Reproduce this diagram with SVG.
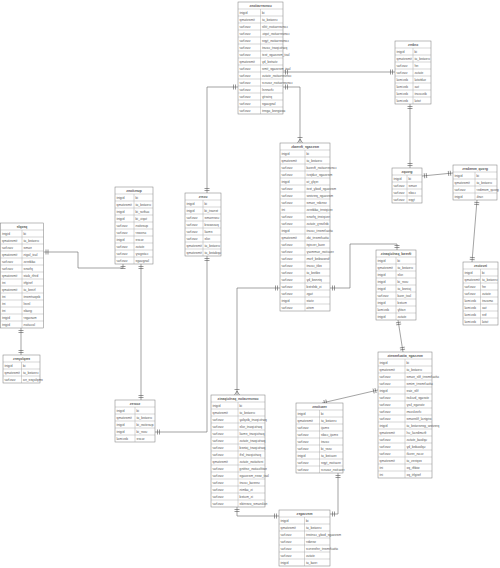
<svg xmlns="http://www.w3.org/2000/svg" width="500" height="568" viewBox="0 0 500 568">
<style>
.box{fill:#fff;stroke:#777;stroke-width:.5}
.grid{fill:none;stroke:#999;stroke-width:.4}
.conn{fill:none;stroke:#666;stroke-width:.6}
text{font-family:"Liberation Sans",Arial,sans-serif;font-size:3.3px;fill:#555}
.t{text-anchor:middle;font-weight:bold}
.c{text-anchor:end}
</style>
<defs>
<marker id="one" viewBox="0 -3 8 6" refX="8" refY="0" markerWidth="8" markerHeight="6" markerUnits="userSpaceOnUse" orient="auto-start-reverse"><path d="M3.5 -2.5V2.5M5.5 -2.5V2.5" fill="none" stroke="#555" stroke-width=".6"/></marker>
<marker id="many" viewBox="0 -3 8 6" refX="8" refY="0" markerWidth="8" markerHeight="6" markerUnits="userSpaceOnUse" orient="auto-start-reverse"><path d="M2.5 -2.5V2.5M4 0L8 -2.5M4 0L8 2.5" fill="none" stroke="#555" stroke-width=".6"/></marker>
</defs>
<rect width="500" height="568" fill="#fff"/>
<g id="connectors" class="conn" marker-start="url(#one)">
<path d="M238 87H207V193" marker-end="url(#one)"/>
<path d="M283 72H395" marker-end="url(#one)"/>
<path d="M283 87H300V143" marker-end="url(#many)"/>
<path d="M410 104V168" marker-end="url(#one)"/>
<path d="M422 176L453 173" marker-end="url(#one)"/>
<path d="M477 200L472 262" marker-end="url(#one)"/>
<path d="M330 288H350V244H397V250" marker-end="url(#one)"/>
<path d="M280 288H237V395" marker-end="url(#many)"/>
<path d="M398 320L403 352" marker-end="url(#one)"/>
<path d="M322 403L378 390" marker-end="url(#one)"/>
<path d="M338 473V514H330" marker-end="url(#one)"/>
<path d="M237 507V516H279" marker-end="url(#one)"/>
<path d="M207 256V432H155" marker-end="url(#one)"/>
<path d="M141 264V400" marker-end="url(#one)"/>
<path d="M43.5 252H78V268H123V264" marker-end="url(#one)"/>
<path d="M21 328V355" marker-end="url(#one)"/>
</g>

<g id="conversations" transform="translate(238,2)">
<rect class="box" width="45" height="112"/>
<path class="grid" d="M0 7H45M0 14H45M0 21H45M0 28H45M0 35H45M0 42H45M0 49H45M0 56H45M0 63H45M0 70H45M0 77H45M0 84H45M0 91H45M0 98H45M0 105H45M22.5 7V112"/>
<g transform="scale(-1,1)">
<text class="t" x="-22.5" y="4.8">conversations</text>
<text class="c" x="-1.5" y="11.8">bigint</text><text class="c" x="-24" y="11.8">id</text>
<text class="c" x="-1.5" y="18.8">timestamp</text><text class="c" x="-24" y="18.8">created_at</text>
<text class="c" x="-1.5" y="25.8">varchar</text><text class="c" x="-24" y="25.8">conversation_title</text>
<text class="c" x="-1.5" y="32.8">varchar</text><text class="c" x="-24" y="32.8">conversation_topic</text>
<text class="c" x="-1.5" y="39.8">varchar</text><text class="c" x="-24" y="39.8">conversation_type</text>
<text class="c" x="-1.5" y="46.8">varchar</text><text class="c" x="-24" y="46.8">participant_count</text>
<text class="c" x="-1.5" y="53.8">varchar</text><text class="c" x="-24" y="53.8">last_message_text</text>
<text class="c" x="-1.5" y="60.8">timestamp</text><text class="c" x="-24" y="60.8">started_by</text>
<text class="c" x="-1.5" y="67.8">varchar</text><text class="c" x="-24" y="67.8">last_message_time</text>
<text class="c" x="-1.5" y="74.8">varchar</text><text class="c" x="-24" y="74.8">conversation_status</text>
<text class="c" x="-1.5" y="81.8">varchar</text><text class="c" x="-24" y="81.8">conversation_source</text>
<text class="c" x="-1.5" y="88.8">varchar</text><text class="c" x="-24" y="88.8">channel</text>
<text class="c" x="-1.5" y="95.8">varchar</text><text class="c" x="-24" y="95.8">priority</text>
<text class="c" x="-1.5" y="102.8">varchar</text><text class="c" x="-24" y="102.8">language</text>
<text class="c" x="-1.5" y="109.8">varchar</text><text class="c" x="-24" y="109.8">assigned_agent</text>
</g>
</g>

<g id="orders" transform="translate(395,41)">
<rect class="box" width="36" height="63"/>
<path class="grid" d="M0 7H36M0 14H36M0 21H36M0 28H36M0 35H36M0 42H36M0 49H36M0 56H36M18 7V63"/>
<g transform="scale(-1,1)">
<text class="t" x="-18" y="4.8">orders</text>
<text class="c" x="-1.5" y="11.8">bigint</text><text class="c" x="-19.5" y="11.8">id</text>
<text class="c" x="-1.5" y="18.8">timestamp</text><text class="c" x="-19.5" y="18.8">created_at</text>
<text class="c" x="-1.5" y="25.8">varchar</text><text class="c" x="-19.5" y="25.8">ref</text>
<text class="c" x="-1.5" y="32.8">varchar</text><text class="c" x="-19.5" y="32.8">status</text>
<text class="c" x="-1.5" y="39.8">decimal</text><text class="c" x="-19.5" y="39.8">subtotal</text>
<text class="c" x="-1.5" y="46.8">decimal</text><text class="c" x="-19.5" y="46.8">tax</text>
<text class="c" x="-1.5" y="53.8">decimal</text><text class="c" x="-19.5" y="53.8">discount</text>
<text class="c" x="-1.5" y="60.8">decimal</text><text class="c" x="-19.5" y="60.8">total</text>
</g>
</g>

<g id="groups" transform="translate(392,168)">
<rect class="box" width="30" height="35"/>
<path class="grid" d="M0 7H30M0 14H30M0 21H30M0 28H30M15 7V35"/>
<g transform="scale(-1,1)">
<text class="t" x="-15" y="4.8">groups</text>
<text class="c" x="-1.5" y="11.8">bigint</text><text class="c" x="-16.5" y="11.8">id</text>
<text class="c" x="-1.5" y="18.8">varchar</text><text class="c" x="-16.5" y="18.8">name</text>
<text class="c" x="-1.5" y="25.8">varchar</text><text class="c" x="-16.5" y="25.8">code</text>
<text class="c" x="-1.5" y="32.8">varchar</text><text class="c" x="-16.5" y="32.8">type</text>
</g>
</g>

<g id="group_members" transform="translate(453,165)">
<rect class="box" width="44" height="35"/>
<path class="grid" d="M0 7H44M0 14H44M0 21H44M0 28H44M22 7V35"/>
<g transform="scale(-1,1)">
<text class="t" x="-22" y="4.8">group_members</text>
<text class="c" x="-1.5" y="11.8">bigint</text><text class="c" x="-23.5" y="11.8">id</text>
<text class="c" x="-1.5" y="18.8">timestamp</text><text class="c" x="-23.5" y="18.8">created_at</text>
<text class="c" x="-1.5" y="25.8">varchar</text><text class="c" x="-23.5" y="25.8">group_member</text>
<text class="c" x="-1.5" y="32.8">bigint</text><text class="c" x="-23.5" y="32.8">rank</text>
</g>
</g>

<g id="invoices" transform="translate(463,262)">
<rect class="box" width="35" height="63"/>
<path class="grid" d="M0 7H35M0 14H35M0 21H35M0 28H35M0 35H35M0 42H35M0 49H35M0 56H35M17.5 7V63"/>
<g transform="scale(-1,1)">
<text class="t" x="-17.5" y="4.8">invoices</text>
<text class="c" x="-1.5" y="11.8">bigint</text><text class="c" x="-19" y="11.8">id</text>
<text class="c" x="-1.5" y="18.8">timestamp</text><text class="c" x="-19" y="18.8">created_at</text>
<text class="c" x="-1.5" y="25.8">varchar</text><text class="c" x="-19" y="25.8">ref</text>
<text class="c" x="-1.5" y="32.8">varchar</text><text class="c" x="-19" y="32.8">status</text>
<text class="c" x="-1.5" y="39.8">decimal</text><text class="c" x="-19" y="39.8">amount</text>
<text class="c" x="-1.5" y="46.8">decimal</text><text class="c" x="-19" y="46.8">tax</text>
<text class="c" x="-1.5" y="53.8">decimal</text><text class="c" x="-19" y="53.8">fee</text>
<text class="c" x="-1.5" y="60.8">decimal</text><text class="c" x="-19" y="60.8">total</text>
</g>
</g>

<g id="message_threads" transform="translate(280,143)">
<rect class="box" width="50" height="168"/>
<path class="grid" d="M0 7H50M0 14H50M0 21H50M0 28H50M0 35H50M0 42H50M0 49H50M0 56H50M0 63H50M0 70H50M0 77H50M0 84H50M0 91H50M0 98H50M0 105H50M0 112H50M0 119H50M0 126H50M0 133H50M0 140H50M0 147H50M0 154H50M0 161H50M25 7V168"/>
<g transform="scale(-1,1)">
<text class="t" x="-25" y="4.8">message_threads</text>
<text class="c" x="-1.5" y="11.8">bigint</text><text class="c" x="-26.5" y="11.8">id</text>
<text class="c" x="-1.5" y="18.8">timestamp</text><text class="c" x="-26.5" y="18.8">created_at</text>
<text class="c" x="-1.5" y="25.8">varchar</text><text class="c" x="-26.5" y="25.8">conversation_thread</text>
<text class="c" x="-1.5" y="32.8">varchar</text><text class="c" x="-26.5" y="32.8">message_subject</text>
<text class="c" x="-1.5" y="39.8">bigint</text><text class="c" x="-26.5" y="39.8">reply_to</text>
<text class="c" x="-1.5" y="46.8">varchar</text><text class="c" x="-26.5" y="46.8">message_body_text</text>
<text class="c" x="-1.5" y="53.8">varchar</text><text class="c" x="-26.5" y="53.8">message_preview</text>
<text class="c" x="-1.5" y="60.8">varchar</text><text class="c" x="-26.5" y="60.8">sender_name</text>
<text class="c" x="-1.5" y="67.8">int</text><text class="c" x="-26.5" y="67.8">recipient_address</text>
<text class="c" x="-1.5" y="74.8">varchar</text><text class="c" x="-26.5" y="74.8">recipient_phone</text>
<text class="c" x="-1.5" y="81.8">varchar</text><text class="c" x="-26.5" y="81.8">delivery_status</text>
<text class="c" x="-1.5" y="88.8">bigint</text><text class="c" x="-26.5" y="88.8">attachment_count</text>
<text class="c" x="-1.5" y="95.8">timestamp</text><text class="c" x="-26.5" y="95.8">attachment_ids</text>
<text class="c" x="-1.5" y="102.8">varchar</text><text class="c" x="-26.5" y="102.8">read_receipt</text>
<text class="c" x="-1.5" y="109.8">varchar</text><text class="c" x="-26.5" y="109.8">reaction_summary</text>
<text class="c" x="-1.5" y="116.8">varchar</text><text class="c" x="-26.5" y="116.8">forwarded_from</text>
<text class="c" x="-1.5" y="123.8">varchar</text><text class="c" x="-26.5" y="123.8">edit_count</text>
<text class="c" x="-1.5" y="130.8">varchar</text><text class="c" x="-26.5" y="130.8">edited_at</text>
<text class="c" x="-1.5" y="137.8">varchar</text><text class="c" x="-26.5" y="137.8">pinned_by</text>
<text class="c" x="-1.5" y="144.8">varchar</text><text class="c" x="-26.5" y="144.8">is_deleted</text>
<text class="c" x="-1.5" y="151.8">varchar</text><text class="c" x="-26.5" y="151.8">tags</text>
<text class="c" x="-1.5" y="158.8">bigint</text><text class="c" x="-26.5" y="158.8">state</text>
<text class="c" x="-1.5" y="165.8">varchar</text><text class="c" x="-26.5" y="165.8">meta</text>
</g>
</g>

<g id="thread_participants" transform="translate(376,250)">
<rect class="box" width="40" height="70"/>
<path class="grid" d="M0 7H40M0 14H40M0 21H40M0 28H40M0 35H40M0 42H40M0 49H40M0 56H40M0 63H40M20 7V70"/>
<g transform="scale(-1,1)">
<text class="t" x="-20" y="4.8">thread_participants</text>
<text class="c" x="-1.5" y="11.8">bigint</text><text class="c" x="-21.5" y="11.8">id</text>
<text class="c" x="-1.5" y="18.8">timestamp</text><text class="c" x="-21.5" y="18.8">created_at</text>
<text class="c" x="-1.5" y="25.8">bigint</text><text class="c" x="-21.5" y="25.8">role</text>
<text class="c" x="-1.5" y="32.8">bigint</text><text class="c" x="-21.5" y="32.8">user_id</text>
<text class="c" x="-1.5" y="39.8">bigint</text><text class="c" x="-21.5" y="39.8">joined_at</text>
<text class="c" x="-1.5" y="46.8">varchar</text><text class="c" x="-21.5" y="46.8">last_read</text>
<text class="c" x="-1.5" y="53.8">bigint</text><text class="c" x="-21.5" y="53.8">muted</text>
<text class="c" x="-1.5" y="60.8">decimal</text><text class="c" x="-21.5" y="60.8">notify</text>
<text class="c" x="-1.5" y="67.8">bigint</text><text class="c" x="-21.5" y="67.8">status</text>
</g>
</g>

<g id="message_attachments" transform="translate(378,352)">
<rect class="box" width="54" height="126"/>
<path class="grid" d="M0 7H54M0 14H54M0 21H54M0 28H54M0 35H54M0 42H54M0 49H54M0 56H54M0 63H54M0 70H54M0 77H54M0 84H54M0 91H54M0 98H54M0 105H54M0 112H54M0 119H54M27 7V126"/>
<g transform="scale(-1,1)">
<text class="t" x="-27" y="4.8">message_attachments</text>
<text class="c" x="-1.5" y="11.8">bigint</text><text class="c" x="-28.5" y="11.8">id</text>
<text class="c" x="-1.5" y="18.8">timestamp</text><text class="c" x="-28.5" y="18.8">created_at</text>
<text class="c" x="-1.5" y="25.8">varchar</text><text class="c" x="-28.5" y="25.8">attachment_file_name</text>
<text class="c" x="-1.5" y="32.8">varchar</text><text class="c" x="-28.5" y="32.8">attachment_mime</text>
<text class="c" x="-1.5" y="39.8">bigint</text><text class="c" x="-28.5" y="39.8">file_size</text>
<text class="c" x="-1.5" y="46.8">varchar</text><text class="c" x="-28.5" y="46.8">storage_bucket</text>
<text class="c" x="-1.5" y="53.8">varchar</text><text class="c" x="-28.5" y="53.8">storage_key</text>
<text class="c" x="-1.5" y="60.8">varchar</text><text class="c" x="-28.5" y="60.8">checksum</text>
<text class="c" x="-1.5" y="67.8">varchar</text><text class="c" x="-28.5" y="67.8">original_filename</text>
<text class="c" x="-1.5" y="74.8">bigint</text><text class="c" x="-28.5" y="74.8">preview_generated_at</text>
<text class="c" x="-1.5" y="81.8">timestamp</text><text class="c" x="-28.5" y="81.8">thumbnail_url</text>
<text class="c" x="-1.5" y="88.8">varchar</text><text class="c" x="-28.5" y="88.8">upload_status</text>
<text class="c" x="-1.5" y="95.8">varchar</text><text class="c" x="-28.5" y="95.8">uploaded_by</text>
<text class="c" x="-1.5" y="102.8">varchar</text><text class="c" x="-28.5" y="102.8">scan_result</text>
<text class="c" x="-1.5" y="109.8">timestamp</text><text class="c" x="-28.5" y="109.8">expires_at</text>
<text class="c" x="-1.5" y="116.8">int</text><text class="c" x="-28.5" y="116.8">width_px</text>
<text class="c" x="-1.5" y="123.8">int</text><text class="c" x="-28.5" y="123.8">height_px</text>
</g>
</g>

<g id="reactions" transform="translate(296,403)">
<rect class="box" width="47" height="70"/>
<path class="grid" d="M0 7H47M0 14H47M0 21H47M0 28H47M0 35H47M0 42H47M0 49H47M0 56H47M0 63H47M23.5 7V70"/>
<g transform="scale(-1,1)">
<text class="t" x="-23.5" y="4.8">reactions</text>
<text class="c" x="-1.5" y="11.8">bigint</text><text class="c" x="-25" y="11.8">id</text>
<text class="c" x="-1.5" y="18.8">timestamp</text><text class="c" x="-25" y="18.8">created_at</text>
<text class="c" x="-1.5" y="25.8">varchar</text><text class="c" x="-25" y="25.8">emoji</text>
<text class="c" x="-1.5" y="32.8">varchar</text><text class="c" x="-25" y="32.8">emoji_code</text>
<text class="c" x="-1.5" y="39.8">varchar</text><text class="c" x="-25" y="39.8">count</text>
<text class="c" x="-1.5" y="46.8">varchar</text><text class="c" x="-25" y="46.8">user_id</text>
<text class="c" x="-1.5" y="53.8">bigint</text><text class="c" x="-25" y="53.8">reacted_at</text>
<text class="c" x="-1.5" y="60.8">varchar</text><text class="c" x="-25" y="60.8">reaction_type</text>
<text class="c" x="-1.5" y="67.8">varchar</text><text class="c" x="-25" y="67.8">reaction_source</text>
</g>
</g>

<g id="conversation_participants" transform="translate(211,395)">
<rect class="box" width="54" height="112"/>
<path class="grid" d="M0 7H54M0 14H54M0 21H54M0 28H54M0 35H54M0 42H54M0 49H54M0 56H54M0 63H54M0 70H54M0 77H54M0 84H54M0 91H54M0 98H54M0 105H54M27 7V112"/>
<g transform="scale(-1,1)">
<text class="t" x="-27" y="4.8">conversation_participants</text>
<text class="c" x="-1.5" y="11.8">bigint</text><text class="c" x="-28.5" y="11.8">id</text>
<text class="c" x="-1.5" y="18.8">timestamp</text><text class="c" x="-28.5" y="18.8">created_at</text>
<text class="c" x="-1.5" y="25.8">varchar</text><text class="c" x="-28.5" y="25.8">participant_display</text>
<text class="c" x="-1.5" y="32.8">varchar</text><text class="c" x="-28.5" y="32.8">participant_role</text>
<text class="c" x="-1.5" y="39.8">varchar</text><text class="c" x="-28.5" y="39.8">participant_email</text>
<text class="c" x="-1.5" y="46.8">varchar</text><text class="c" x="-28.5" y="46.8">participant_status</text>
<text class="c" x="-1.5" y="53.8">varchar</text><text class="c" x="-28.5" y="53.8">participant_joined</text>
<text class="c" x="-1.5" y="60.8">varchar</text><text class="c" x="-28.5" y="60.8">participant_left</text>
<text class="c" x="-1.5" y="67.8">timestamp</text><text class="c" x="-28.5" y="67.8">invitation_status</text>
<text class="c" x="-1.5" y="74.8">varchar</text><text class="c" x="-28.5" y="74.8">notification_setting</text>
<text class="c" x="-1.5" y="81.8">varchar</text><text class="c" x="-28.5" y="81.8">last_seen_message</text>
<text class="c" x="-1.5" y="88.8">varchar</text><text class="c" x="-28.5" y="88.8">unread_count</text>
<text class="c" x="-1.5" y="95.8">varchar</text><text class="c" x="-28.5" y="95.8">is_admin</text>
<text class="c" x="-1.5" y="102.8">varchar</text><text class="c" x="-28.5" y="102.8">is_muted</text>
<text class="c" x="-1.5" y="109.8">varchar</text><text class="c" x="-28.5" y="109.8">nickname_override</text>
</g>
</g>

<g id="messages" transform="translate(279,510)">
<rect class="box" width="51" height="56"/>
<path class="grid" d="M0 7H51M0 14H51M0 21H51M0 28H51M0 35H51M0 42H51M0 49H51M25.5 7V56"/>
<g transform="scale(-1,1)">
<text class="t" x="-25.5" y="4.8">messages</text>
<text class="c" x="-1.5" y="11.8">bigint</text><text class="c" x="-27" y="11.8">id</text>
<text class="c" x="-1.5" y="18.8">timestamp</text><text class="c" x="-27" y="18.8">created_at</text>
<text class="c" x="-1.5" y="25.8">varchar</text><text class="c" x="-27" y="25.8">message_body_content</text>
<text class="c" x="-1.5" y="32.8">varchar</text><text class="c" x="-27" y="32.8">sender</text>
<text class="c" x="-1.5" y="39.8">varchar</text><text class="c" x="-27" y="39.8">attachment_reference</text>
<text class="c" x="-1.5" y="46.8">varchar</text><text class="c" x="-27" y="46.8">status</text>
<text class="c" x="-1.5" y="53.8">bigint</text><text class="c" x="-27" y="53.8">read_at</text>
</g>
</g>

<g id="users" transform="translate(185,193)">
<rect class="box" width="36" height="63"/>
<path class="grid" d="M0 7H36M0 14H36M0 21H36M0 28H36M0 35H36M0 42H36M0 49H36M0 56H36M18 7V63"/>
<g transform="scale(-1,1)">
<text class="t" x="-18" y="4.8">users</text>
<text class="c" x="-1.5" y="11.8">bigint</text><text class="c" x="-19.5" y="11.8">id</text>
<text class="c" x="-1.5" y="18.8">bigint</text><text class="c" x="-19.5" y="18.8">tenant_id</text>
<text class="c" x="-1.5" y="25.8">varchar</text><text class="c" x="-19.5" y="25.8">username</text>
<text class="c" x="-1.5" y="32.8">varchar</text><text class="c" x="-19.5" y="32.8">password</text>
<text class="c" x="-1.5" y="39.8">varchar</text><text class="c" x="-19.5" y="39.8">email</text>
<text class="c" x="-1.5" y="46.8">varchar</text><text class="c" x="-19.5" y="46.8">role</text>
<text class="c" x="-1.5" y="53.8">timestamp</text><text class="c" x="-19.5" y="53.8">created_at</text>
<text class="c" x="-1.5" y="60.8">timestamp</text><text class="c" x="-19.5" y="60.8">updated_at</text>
</g>
</g>

<g id="questions" transform="translate(115,187)">
<rect class="box" width="38" height="77"/>
<path class="grid" d="M0 7H38M0 14H38M0 21H38M0 28H38M0 35H38M0 42H38M0 49H38M0 56H38M0 63H38M0 70H38M19 7V77"/>
<g transform="scale(-1,1)">
<text class="t" x="-19" y="4.8">questions</text>
<text class="c" x="-1.5" y="11.8">bigint</text><text class="c" x="-20.5" y="11.8">id</text>
<text class="c" x="-1.5" y="18.8">timestamp</text><text class="c" x="-20.5" y="18.8">created_at</text>
<text class="c" x="-1.5" y="25.8">bigint</text><text class="c" x="-20.5" y="25.8">author_id</text>
<text class="c" x="-1.5" y="32.8">bigint</text><text class="c" x="-20.5" y="32.8">topic_id</text>
<text class="c" x="-1.5" y="39.8">varchar</text><text class="c" x="-20.5" y="39.8">question</text>
<text class="c" x="-1.5" y="46.8">varchar</text><text class="c" x="-20.5" y="46.8">answer</text>
<text class="c" x="-1.5" y="53.8">bigint</text><text class="c" x="-20.5" y="53.8">score</text>
<text class="c" x="-1.5" y="60.8">varchar</text><text class="c" x="-20.5" y="60.8">status</text>
<text class="c" x="-1.5" y="67.8">varchar</text><text class="c" x="-20.5" y="67.8">category</text>
<text class="c" x="-1.5" y="74.8">varchar</text><text class="c" x="-20.5" y="74.8">language</text>
</g>
</g>

<g id="scores" transform="translate(115,400)">
<rect class="box" width="40" height="42"/>
<path class="grid" d="M0 7H40M0 14H40M0 21H40M0 28H40M0 35H40M20 7V42"/>
<g transform="scale(-1,1)">
<text class="t" x="-20" y="4.8">scores</text>
<text class="c" x="-1.5" y="11.8">bigint</text><text class="c" x="-21.5" y="11.8">id</text>
<text class="c" x="-1.5" y="18.8">timestamp</text><text class="c" x="-21.5" y="18.8">created_at</text>
<text class="c" x="-1.5" y="25.8">bigint</text><text class="c" x="-21.5" y="25.8">question_id</text>
<text class="c" x="-1.5" y="32.8">bigint</text><text class="c" x="-21.5" y="32.8">user_id</text>
<text class="c" x="-1.5" y="39.8">decimal</text><text class="c" x="-21.5" y="39.8">score</text>
</g>
</g>

<g id="people" transform="translate(0.5,223)">
<rect class="box" width="43" height="105"/>
<path class="grid" d="M0 7H43M0 14H43M0 21H43M0 28H43M0 35H43M0 42H43M0 49H43M0 56H43M0 63H43M0 70H43M0 77H43M0 84H43M0 91H43M0 98H43M21.5 7V105"/>
<g transform="scale(-1,1)">
<text class="t" x="-21.5" y="4.8">people</text>
<text class="c" x="-1.5" y="11.8">bigint</text><text class="c" x="-23" y="11.8">id</text>
<text class="c" x="-1.5" y="18.8">timestamp</text><text class="c" x="-23" y="18.8">created_at</text>
<text class="c" x="-1.5" y="25.8">varchar</text><text class="c" x="-23" y="25.8">name</text>
<text class="c" x="-1.5" y="32.8">timestamp</text><text class="c" x="-23" y="32.8">last_login</text>
<text class="c" x="-1.5" y="39.8">varchar</text><text class="c" x="-23" y="39.8">address</text>
<text class="c" x="-1.5" y="46.8">varchar</text><text class="c" x="-23" y="46.8">phone</text>
<text class="c" x="-1.5" y="53.8">timestamp</text><text class="c" x="-23" y="53.8">birth_date</text>
<text class="c" x="-1.5" y="60.8">int</text><text class="c" x="-23" y="60.8">height</text>
<text class="c" x="-1.5" y="67.8">timestamp</text><text class="c" x="-23" y="67.8">hired_at</text>
<text class="c" x="-1.5" y="74.8">int</text><text class="c" x="-23" y="74.8">department</text>
<text class="c" x="-1.5" y="81.8">int</text><text class="c" x="-23" y="81.8">level</text>
<text class="c" x="-1.5" y="88.8">int</text><text class="c" x="-23" y="88.8">grade</text>
<text class="c" x="-1.5" y="95.8">bigint</text><text class="c" x="-23" y="95.8">manager</text>
<text class="c" x="-1.5" y="102.8">bigint</text><text class="c" x="-23" y="102.8">location</text>
</g>
</g>

<g id="employees" transform="translate(3,355)">
<rect class="box" width="37" height="28"/>
<path class="grid" d="M0 7H37M0 14H37M0 21H37M18.5 7V28"/>
<g transform="scale(-1,1)">
<text class="t" x="-18.5" y="4.8">employees</text>
<text class="c" x="-1.5" y="11.8">bigint</text><text class="c" x="-20" y="11.8">id</text>
<text class="c" x="-1.5" y="18.8">timestamp</text><text class="c" x="-20" y="18.8">created_at</text>
<text class="c" x="-1.5" y="25.8">varchar</text><text class="c" x="-20" y="25.8">employee_no</text>
</g>
</g>
</svg>
